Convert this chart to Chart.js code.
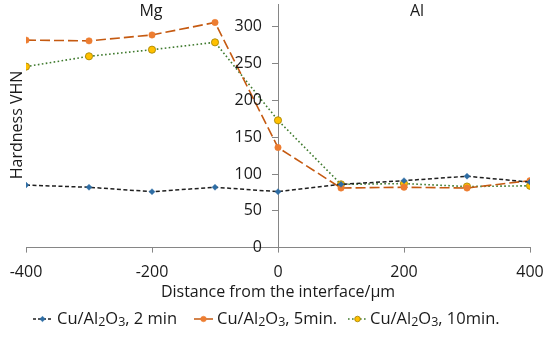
<!DOCTYPE html>
<html>
<head>
<meta charset="utf-8">
<script src="https://cdn.jsdelivr.net/npm/chart.js@4"></script>
<style>
  html, body { margin: 0; padding: 0; background: #fff; }
  #wrap { width: 550px; height: 338px; }
</style>
</head>
<body>
<div id="wrap"><canvas id="c"></canvas></div>
<script>
const distances = [-400, -300, -200, -100, 0, 100, 200, 300, 400]
const hv2min = [85, 82, 76, 82, 76, 86, 91, 97, 89]
const hv5min = [282, 281, 289, 306, 136, 81, 82, 81, 91]
const hv10min = [246, 260, 269, 279, 173, 86, 87, 83, 84]
const seriesTimes = [', 2 min', ', 5min.', ', 10min.']
const xTicks = [-400, -200, 0, 200, 400]
const yTicks = [0, 50, 100, 150, 200, 250, 300]

const FONT = "'Open Sans', sans-serif"
const TXT = '#1a1a1a'

// legend: line + marker then "Cu/Al2O3, ..." with real subscripts
const legendPos = [{icon: 33, text: 57}, {icon: 194, text: 217}, {icon: 348, text: 370}]

const chemLegend = {
  id: 'chemLegend',
  afterDraw(chart) {
    const ctx = chart.ctx
    const y = 319
    chart.data.datasets.forEach((ds, i) => {
      ctx.save()
      ctx.strokeStyle = ds.borderColor
      ctx.lineWidth = 1.5
      ctx.setLineDash(ds.legendDash)
      ctx.beginPath()
      ctx.moveTo(legendPos[i].icon, y)
      ctx.lineTo(legendPos[i].icon + 19, y)
      ctx.stroke()
      ctx.setLineDash([])
      ctx.fillStyle = ds.pointBackgroundColor
      ctx.strokeStyle = ds.pointBorderColor
      ctx.lineWidth = ds.pointBorderWidth
      Chart.helpers.drawPoint(ctx, {pointStyle: ds.pointStyle, radius: 2.8, borderWidth: ds.pointBorderWidth}, legendPos[i].icon + 9.5, y)
      ctx.restore()

      ctx.save()
      ctx.fillStyle = TXT
      ctx.textBaseline = 'middle'
      ctx.textAlign = 'left'
      let x = legendPos[i].text
      const parts = [['Cu/Al', 0], ['2', 1], ['O', 0], ['3', 1], [seriesTimes[i], 0]]
      parts.forEach(p => {
        ctx.font = (p[1] ? '12.5px ' : '16.5px ') + FONT
        ctx.fillText(p[0], x, y + (p[1] ? 3.5 : 0))
        x += ctx.measureText(p[0]).width
      })
      ctx.restore()
    })
  }
}

const sideLabels = {
  id: 'sideLabels',
  afterDraw(chart) {
    const ctx = chart.ctx
    const ys = chart.scales.y
    ctx.save()
    ctx.fillStyle = TXT
    ctx.font = '16px ' + FONT
    ctx.textBaseline = 'middle'
    // y tick labels left of the axis at x = 0
    ctx.textAlign = 'right'
    const axisX = chart.scales.x.getPixelForValue(0)
    yTicks.forEach(v => ctx.fillText(String(v), axisX - 16, ys.getPixelForValue(v)))
    ctx.textAlign = 'center'
    ctx.fillText('Mg', 151, 11)
    ctx.fillText('Al', 417, 11)
    ctx.translate(17, 125)
    ctx.rotate(-Math.PI / 2)
    ctx.fillText('Hardness VHN', 0, 0)
    ctx.restore()
  }
}

new Chart(document.getElementById('c'), {
  type: 'line',
  data: {
    datasets: [
      {
        label: 'Cu/Al2O3' + seriesTimes[0],
        data: distances.map((x, i) => ({x: x, y: hv2min[i]})),
        borderColor: '#1f1f1f',
        borderWidth: 1.5,
        borderDash: [4, 2.5],
        legendDash: [3, 2],
        pointStyle: 'rectRot',
        pointRadius: 3,
        pointBackgroundColor: '#2e6da4',
        pointBorderColor: '#2e6da4',
        pointBorderWidth: 0.5,
      },
      {
        label: 'Cu/Al2O3' + seriesTimes[1],
        data: distances.map((x, i) => ({x: x, y: hv5min[i]})),
        borderColor: '#c55a11',
        borderWidth: 1.6,
        borderDash: [10, 4],
        legendDash: [],
        pointStyle: 'circle',
        pointRadius: 3.2,
        pointBackgroundColor: '#ed7d31',
        pointBorderColor: '#ed7d31',
        pointBorderWidth: 0.5,
      },
      {
        label: 'Cu/Al2O3' + seriesTimes[2],
        data: distances.map((x, i) => ({x: x, y: hv10min[i]})),
        borderColor: '#3f7a2e',
        borderWidth: 1.6,
        borderDash: [1.6, 2.4],
        legendDash: [1.6, 2.4],
        pointStyle: 'circle',
        pointRadius: 3.6,
        pointBackgroundColor: '#ffc000',
        pointBorderColor: '#a08000',
        pointBorderWidth: 0.8,
      },
    ]
  },
  options: {
    responsive: true,
    maintainAspectRatio: false,
    animation: false,
    layout: {padding: {left: 26, right: 20, top: 3, bottom: 36}},
    plugins: {
      tooltip: {enabled: false},
      legend: {display: false},
    },
    scales: {
      x: {
        type: 'linear',
        min: -400,
        max: 400,
        afterBuildTicks: (s) => { s.ticks = xTicks.map(v => ({value: v})) },
        afterFit: (s) => { s.paddingLeft = 0; s.paddingRight = 0 },
        grid: {drawOnChartArea: false, drawTicks: true, tickLength: 5, color: '#868686'},
        border: {color: '#868686', width: 1},
        ticks: {color: TXT, font: {family: FONT, size: 16}, padding: 10},
        title: {display: true, text: 'Distance from the interface/µm', color: TXT, font: {family: FONT, size: 16}, padding: {top: -9, bottom: 0}},
      },
      y: {
        type: 'linear',
        min: 0,
        max: 330,
        position: {x: 0},
        afterBuildTicks: (s) => { s.ticks = yTicks.map(v => ({value: v})) },
        grid: {drawOnChartArea: false, drawTicks: true, tickLength: 6, color: '#868686'},
        border: {color: '#868686', width: 1},
        ticks: {display: false},
      },
    }
  },
  plugins: [sideLabels, chemLegend]
})
</script>
</body>
</html>
